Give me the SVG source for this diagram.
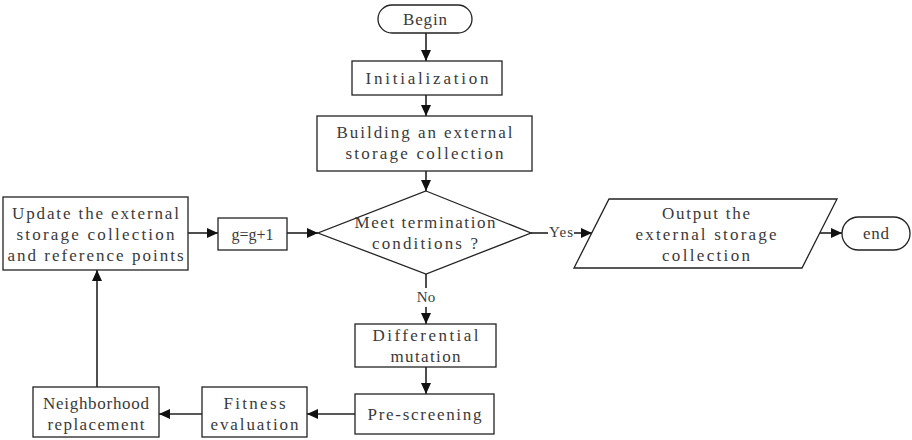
<svg xmlns="http://www.w3.org/2000/svg" width="912" height="440" viewBox="0 0 912 440">
<defs>
<marker id="arr" markerUnits="userSpaceOnUse" markerWidth="11" markerHeight="10" refX="11" refY="5" orient="auto">
<path d="M0,0 L11,5 L0,10 z" fill="#111"/>
</marker>
<style>
.n{fill:#fff;stroke:#222;stroke-width:1.3}
.t{font-family:"Liberation Serif","DejaVu Serif",serif;font-size:17px;fill:#3a3a3a;text-anchor:middle;dominant-baseline:central}
.s{font-family:"Liberation Serif","DejaVu Serif",serif;font-size:15px;fill:#3a3a3a;text-anchor:middle;dominant-baseline:central}
.c{fill:none;stroke:#222;stroke-width:1.6}
.a{marker-end:url(#arr)}
</style>
</defs>
<rect width="912" height="440" fill="#fff"/>
<g id="connectors">
<line class="c a" x1="426" y1="33" x2="426" y2="61"/>
<line class="c a" x1="426" y1="95" x2="426" y2="116"/>
<line class="c a" x1="426" y1="171" x2="426" y2="191"/>
<line class="c" x1="426" y1="274" x2="426" y2="288"/>
<line class="c a" x1="426" y1="307" x2="426" y2="324"/>
<line class="c a" x1="426" y1="367" x2="426" y2="394"/>
<line class="c a" x1="355" y1="414" x2="307" y2="414"/>
<line class="c a" x1="202" y1="414" x2="159" y2="414"/>
<line class="c a" x1="97" y1="387" x2="97" y2="270"/>
<line class="c a" x1="188" y1="233" x2="218" y2="233"/>
<line class="c a" x1="287" y1="233" x2="318" y2="233"/>
<line class="c" x1="531" y1="233" x2="548" y2="233"/>
<line class="c a" x1="574" y1="233" x2="592" y2="233"/>
<line class="c a" x1="820" y1="233" x2="842" y2="233"/>
<text class="s" x="426" y="297">No</text>
<text class="s" x="561" y="232" textLength="24" lengthAdjust="spacing">Yes</text>
</g>
<g id="begin">
<rect class="n" x="378" y="5" width="94" height="28" rx="14"/>
<text class="t" x="425" y="19" textLength="44" lengthAdjust="spacing">Begin</text>
</g>
<g id="init">
<rect class="n" x="352" y="61" width="150" height="34"/>
<text class="t" x="427" y="78" textLength="123" lengthAdjust="spacing">Initialization</text>
</g>
<g id="build">
<rect class="n" x="317" y="116" width="215" height="55"/>
<text class="t" x="424.5" y="132" textLength="176" lengthAdjust="spacing">Building an external</text>
<text class="t" x="424.5" y="153" textLength="158" lengthAdjust="spacing">storage collection</text>
</g>
<g id="decision">
<polygon class="n" points="426,191 531,233 426,274 318,233"/>
<text class="t" x="425" y="222" textLength="141" lengthAdjust="spacing">Meet termination</text>
<text class="t" x="425" y="243" textLength="106" lengthAdjust="spacing">conditions ?</text>
</g>
<g id="output">
<polygon class="n" points="609,199 837,199 802,268 574,268"/>
<text class="t" x="706" y="213" textLength="88" lengthAdjust="spacing">Output the</text>
<text class="t" x="706" y="234" textLength="141" lengthAdjust="spacing">external storage</text>
<text class="t" x="706" y="255" textLength="88" lengthAdjust="spacing">collection</text>
</g>
<g id="end">
<rect class="n" x="842" y="217" width="68" height="33" rx="16.5"/>
<text class="t" x="876" y="233" textLength="26" lengthAdjust="spacing">end</text>
</g>
<g id="update">
<rect class="n" x="3" y="197" width="185" height="73"/>
<text class="t" x="95.5" y="213" textLength="167" lengthAdjust="spacing">Update the external</text>
<text class="t" x="95.5" y="234" textLength="158" lengthAdjust="spacing">storage collection</text>
<text class="t" x="95.5" y="255" textLength="176" lengthAdjust="spacing">and reference points</text>
</g>
<g id="gplus">
<rect class="n" x="218" y="218" width="69" height="32"/>
<text class="t" x="252.5" y="234" style="font-size:16px">g=g+1</text>
</g>
<g id="diffmut">
<rect class="n" x="355" y="324" width="141" height="43"/>
<text class="t" x="425.5" y="335" textLength="106" lengthAdjust="spacing">Differential</text>
<text class="t" x="425.5" y="356" textLength="70" lengthAdjust="spacing">mutation</text>
</g>
<g id="prescreen">
<rect class="n" x="355" y="394" width="139" height="40"/>
<text class="t" x="424.5" y="414" textLength="114" lengthAdjust="spacing">Pre-screening</text>
</g>
<g id="fitness">
<rect class="n" x="202" y="387" width="105" height="50"/>
<text class="t" x="254.5" y="403" textLength="62" lengthAdjust="spacing">Fitness</text>
<text class="t" x="254.5" y="424" textLength="88" lengthAdjust="spacing">evaluation</text>
</g>
<g id="neighbor">
<rect class="n" x="33" y="387" width="126" height="50"/>
<text class="t" x="96" y="403" textLength="106" lengthAdjust="spacing">Neighborhood</text>
<text class="t" x="96" y="424" textLength="97" lengthAdjust="spacing">replacement</text>
</g>
</svg>
